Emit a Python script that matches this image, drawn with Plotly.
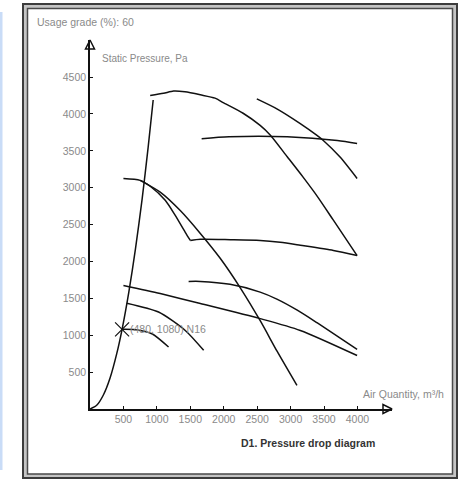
import plotly.graph_objects as go

# ---- data ----
system_x = [0, 100, 200, 300, 400, 480, 580, 680, 780, 870, 945]
system_y = [0, 50, 190, 420, 750, 1080, 1580, 2170, 2850, 3550, 4190]

# top curve of the large family (down to the right end)
curve_a_top_x = [900, 1100, 1250, 1420, 1650, 1870, 2000, 2290, 2545, 2695, 2950, 3190, 3410, 3640, 3995]
curve_a_top_y = [4250, 4280, 4310, 4300, 4260, 4215, 4150, 4010, 3845, 3715, 3420, 3140, 2870, 2560, 2080]
# flat return curve
curve_a_flat_x = [3995, 3640, 3145, 2845, 2545, 2100, 1650, 1500]
curve_a_flat_y = [2080, 2150, 2220, 2260, 2285, 2295, 2300, 2285]
# rising part up to the left start
curve_a_rise_x = [1500, 1425, 1275, 1125, 900, 750, 500]
curve_a_rise_y = [2285, 2395, 2625, 2830, 3020, 3100, 3125]

curve_c_x = [750, 1050, 1350, 1650, 1950, 2250, 2550, 2800, 3095]
curve_c_y = [3100, 2940, 2690, 2380, 2040, 1640, 1190, 780, 320]

curve_d_x = [2495, 2795, 3145, 3395, 3490, 3740, 3995]
curve_d_y = [4205, 4070, 3870, 3710, 3640, 3415, 3125]

curve_e_x = [1670, 2080, 2950, 3700, 3995]
curve_e_y = [3665, 3690, 3690, 3640, 3600]

curve_f_x = [500, 1050, 1650, 2545, 3145, 3995]
curve_f_y = [1675, 1565, 1430, 1225, 1065, 725]

curve_g_x = [1475, 1650, 2095, 2545, 2795, 3100, 3395, 3995]
curve_g_y = [1730, 1730, 1690, 1585, 1490, 1340, 1170, 810]

curve_h_x = [550, 1025, 1425, 1700]
curve_h_y = [1435, 1315, 1065, 795]

curve_i_x = [480, 675, 925, 1175]
curve_i_y = [1080, 1075, 1020, 840]

point_x = [480]
point_y = [1080]
point_label = "(480, 1080) N16"

x_ticks = [500, 1000, 1500, 2000, 2500, 3000, 3500, 4000]
y_ticks = [500, 1000, 1500, 2000, 2500, 3000, 3500, 4000, 4500]

X_MAX = 4517
Y_MAX = 5003

# ---- layout geometry (pixels) ----
W, H = 464, 479
ML, MR, MT, MB = 90, 72, 40, 70
PW, PH = W - ML - MR, H - MT - MB


def px(x):
    return (x - ML) / PW


def py(y):
    return (H - MB - y) / PH


LINE = dict(color="#111111", width=1.5, shape="spline", smoothing=0.7)
GREY = "#8a8a8a"
FONT = "Liberation Sans, Arial, sans-serif"

fig = go.Figure()
for xs, ys in [(system_x, system_y), (curve_a_top_x, curve_a_top_y), (curve_a_flat_x, curve_a_flat_y),
               (curve_a_rise_x, curve_a_rise_y), (curve_c_x, curve_c_y),
               (curve_d_x, curve_d_y), (curve_e_x, curve_e_y), (curve_f_x, curve_f_y),
               (curve_g_x, curve_g_y), (curve_h_x, curve_h_y), (curve_i_x, curve_i_y)]:
    fig.add_trace(go.Scatter(x=xs, y=ys, mode="lines", line=LINE, hoverinfo="skip"))

fig.add_trace(go.Scatter(x=point_x, y=point_y, mode="markers",
                         marker=dict(symbol="x-thin", size=14, line=dict(width=1.2, color="#111111")),
                         hoverinfo="skip"))

# axis arrowheads
fig.add_trace(go.Scatter(x=[0], y=[Y_MAX], mode="markers", cliponaxis=False,
                         marker=dict(symbol="arrow-up-open", size=9, color="#111111",
                                     line=dict(width=1.5, color="#111111")), hoverinfo="skip"))
fig.add_trace(go.Scatter(x=[X_MAX], y=[0], mode="markers", cliponaxis=False,
                         marker=dict(symbol="arrow-right-open", size=9, color="#111111",
                                     line=dict(width=1.5, color="#111111")), hoverinfo="skip"))

shapes = [
    dict(type="rect", xref="paper", yref="paper", x0=px(0), x1=px(2.5), y0=py(12), y1=py(470),
         fillcolor="#c9dcf7", line=dict(width=0), layer="below"),
    dict(type="rect", xref="paper", yref="paper", x0=px(23), x1=px(457), y0=py(4), y1=py(478),
         fillcolor="#c4c4c4", line=dict(color="#3c3c3c", width=2), layer="below"),
    dict(type="rect", xref="paper", yref="paper", x0=px(27.5), x1=px(452.5), y0=py(8.5), y1=py(474),
         fillcolor="#ffffff", line=dict(color="#4a4a4a", width=1.5), layer="below"),
]

annotations = [
    dict(text="Usage grade (%): 60", xref="paper", yref="paper", x=px(35), y=py(22),
         xanchor="left", yanchor="middle", showarrow=False, font=dict(size=10.5, color=GREY, family=FONT)),
    dict(text="Static Pressure, Pa", xref="paper", yref="paper", x=px(100), y=py(59),
         xanchor="left", yanchor="middle", showarrow=False, font=dict(size=10, color=GREY, family=FONT)),
    dict(text="Air Quantity, m³/h", xref="paper", yref="paper", x=px(361), y=py(394),
         xanchor="left", yanchor="middle", showarrow=False, font=dict(size=10.5, color=GREY, family=FONT)),
    dict(text="<b>D1. Pressure drop diagram</b>", xref="paper", yref="paper", x=px(239), y=py(443),
         xanchor="left", yanchor="middle", showarrow=False, font=dict(size=10.5, color="#333333", family=FONT)),
    dict(text=point_label, x=point_x[0], y=point_y[0], xanchor="left", yanchor="middle", xshift=6,
         showarrow=False, font=dict(size=10.5, color=GREY, family=FONT)),
]

fig.update_layout(
    width=W, height=H, margin=dict(l=ML, r=MR, t=MT, b=MB, pad=0),
    paper_bgcolor="#ffffff", plot_bgcolor="rgba(0,0,0,0)",
    showlegend=False, shapes=shapes, annotations=annotations,
    font=dict(family=FONT),
    xaxis=dict(range=[0, X_MAX], showgrid=False, zeroline=False, showline=True,
               linecolor="#111111", linewidth=1.5, ticks="inside", ticklen=3, tickcolor="#111111",
               tickvals=x_ticks, ticktext=[str(v) for v in x_ticks],
               tickfont=dict(size=10.5, color=GREY, family=FONT), fixedrange=True),
    yaxis=dict(range=[0, Y_MAX], showgrid=False, zeroline=False, showline=True,
               linecolor="#111111", linewidth=1.5, ticks="inside", ticklen=3, tickcolor="#111111",
               tickvals=y_ticks, ticktext=[str(v) for v in y_ticks],
               tickfont=dict(size=10.5, color=GREY, family=FONT), fixedrange=True),
)

fig.write_html("out.html", config={"displayModeBar": False},
               post_script="document.body.style.margin='0';document.body.style.overflow='hidden';")
